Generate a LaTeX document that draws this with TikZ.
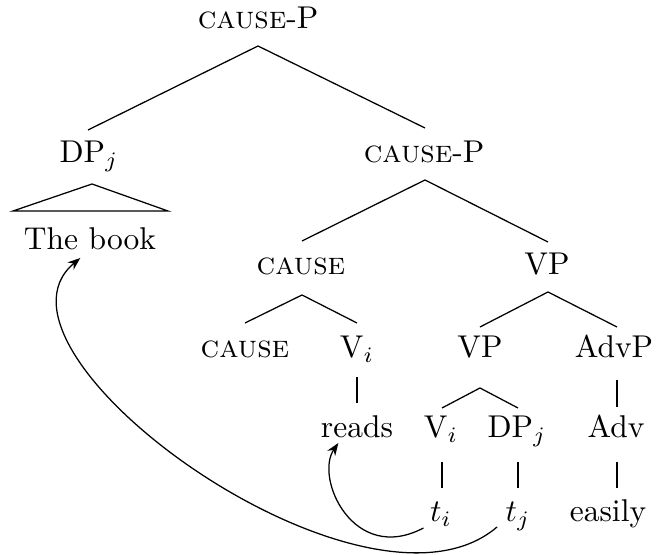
\documentclass[tikz,border=0pt]{standalone}
\usetikzlibrary{arrows.meta}
\begin{document}
\begin{tikzpicture}[x=0.31746pt,y=-0.31746pt,
  lbl/.style={inner sep=0pt,anchor=base},
  edge/.style={line width=0.4pt},
  mov/.style={line width=0.4pt,-{Stealth[length=4pt,width=3pt]}}]
\useasboundingbox (0,0) rectangle (656,555);
% nodes (x = centre, y = baseline, image pixels)
\node[lbl] (top)   at (258,29)  {\textsc{cause}-P};
\node[lbl] (dpj)   at (89,163)  {DP$_j$};
\node[lbl] (cp)    at (424,163) {\textsc{cause}-P};
\node[lbl] (book)  at (90,250)  {The book};
\node[lbl] (cm)    at (301,275) {\textsc{cause}};
\node[lbl] (vpa)   at (547,275) {VP};
\node[lbl] (cl)    at (245,358) {\textsc{cause}};
\node[lbl] (via)   at (357,358) {V$_i$};
\node[lbl] (vpb)   at (480,358) {VP};
\node[lbl] (advp)  at (614,358) {AdvP};
\node[lbl] (reads) at (357,438) {reads};
\node[lbl] (vib)   at (441,438) {V$_i$};
\node[lbl] (dpjb)  at (517,438) {DP$_j$};
\node[lbl] (adv)   at (616,438) {Adv};
\node[lbl] (ti)    at (441,522) {$t_i$};
\node[lbl] (tj)    at (518,522) {$t_j$};
\node[lbl] (easily) at (608,522) {easily};
% branches
\draw[edge] ([shift={(-1,-33)}]dpj.base) -- ([shift={(0,17)}]top.base) -- ([shift={(1,-35)}]cp.base);
\draw[edge] ([shift={(1,-34)}]cm.base) -- ([shift={(1,17)}]cp.base) -- ([shift={(1,-33)}]vpa.base);
\draw[edge] ([shift={(0,-35)}]cl.base) -- ([shift={(1,20)}]cm.base) -- ([shift={(0,-35)}]via.base);
\draw[edge] ([shift={(0,-31)}]vpb.base) -- ([shift={(1,17)}]vpa.base) -- ([shift={(3,-31)}]advp.base);
\draw[edge] ([shift={(0,19)}]via.base) -- ([shift={(0,-35)}]reads.base);
\draw[edge] ([shift={(3,22)}]advp.base) -- ([shift={(1,-31)}]adv.base);
\draw[edge] ([shift={(1,-30)}]vib.base) -- ([shift={(0,30)}]vpb.base) -- ([shift={(1,-30)}]dpjb.base);
\draw[edge] ([shift={(1,24)}]vib.base) -- ([shift={(1,-34)}]ti.base);
\draw[edge] ([shift={(1,24)}]dpjb.base) -- ([shift={(0,-34)}]tj.base);
\draw[edge] ([shift={(1,24)}]adv.base) -- ([shift={(9,-34)}]easily.base);
% triangle
\draw[edge] ([shift={(-77,-39)}]book.base) -- ([shift={(2,-66)}]book.base) -- ([shift={(78,-39)}]book.base) -- cycle;
% movement arrows
\draw[mov] ([shift={(-6,6)}]ti.base west) .. controls +(-70,37) and +(-24,35) .. ([shift={(18,5)}]reads.base west);
\draw[mov] ([shift={(-8,5)}]tj.base west) .. controls +(-132,113) and +(-113,94) .. ([shift={(57,8)}]book.base west);
\end{tikzpicture}
\end{document}
